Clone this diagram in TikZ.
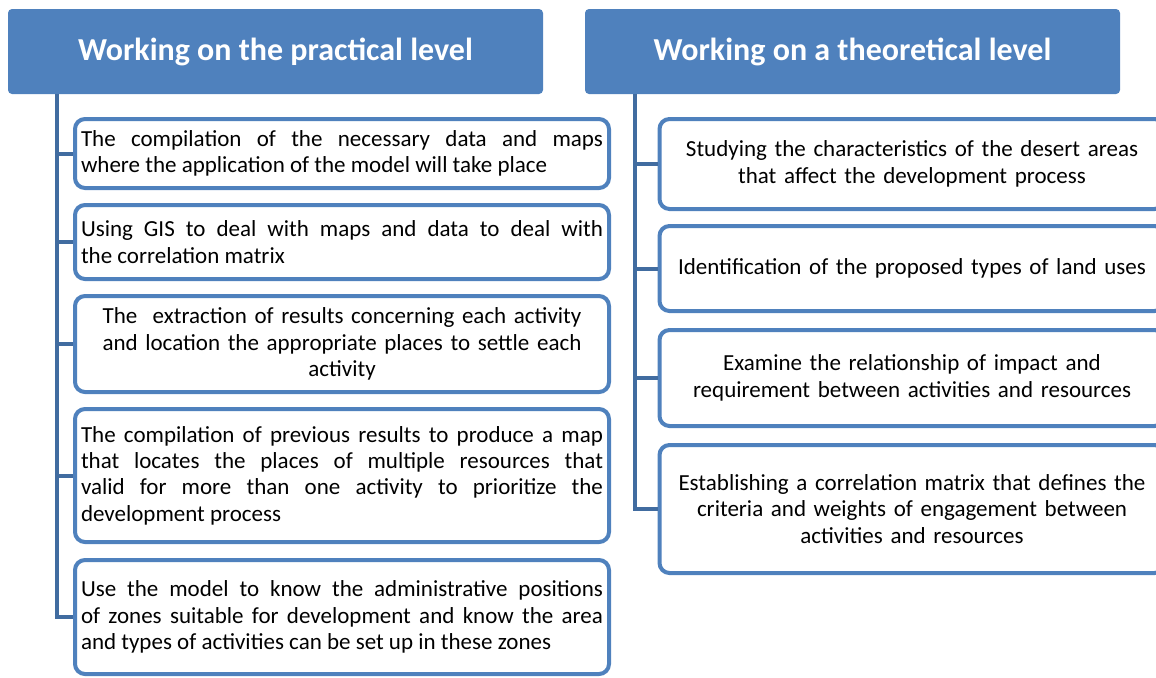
\documentclass[tikz,border=0pt]{standalone}
\usepackage{fontspec}
\setmainfont{Carlito}
\usepackage{tikz}

\definecolor{hdrblue}{RGB}{79,129,189}
\definecolor{linkblue}{RGB}{65,108,160}

\begin{document}
\begin{tikzpicture}[x=0.5pt,y=-0.5pt]
\tikzstyle{header}=[fill=hdrblue, rounded corners=2pt, minimum width=267.5pt, minimum height=42.5pt,
  text=white, font=\fontsize{16}{19}\selectfont\bfseries]
\tikzstyle{lbox}=[draw=hdrblue, line width=2pt, fill=white, rounded corners=5pt, text width=261pt,
  inner xsep=3pt, font=\fontsize{11.5}{13.2}\selectfont, align=justify]
\tikzstyle{rbox}=[lbox, text width=244pt, inner xsep=4.25pt, align=center]
\tikzstyle{link}=[draw=linkblue, line width=2pt]
\useasboundingbox (0,0) rectangle (1156,677);

% headers
\node [header] (lhead) at (275.5,51.5) {Working on the practical level};
\node [header] (rhead) at (852.5,51.5) {Working on a theoretical level};

% practical level
\node [lbox, minimum height=34.5pt] (l1) at (342,153.5) {The compilation of the necessary data and maps\linebreak where the application of the model will take place};
\node [lbox, minimum height=37pt] (l2) at (342,242) {Using GIS to deal with maps and data to deal with\linebreak the correlation matrix};
\node [lbox, minimum height=48pt, align=center] (l3) at (342,344) {The \ extraction of results concerning each activity\\ and location the appropriate places to settle each\\ activity};
\node [lbox, minimum height=66.5pt] (l4) at (342,475.5) {The compilation of previous results to produce a map\linebreak that locates the places of multiple resources that\linebreak valid for more than one activity to prioritize the\linebreak development process};
\node [lbox, minimum height=57pt] (l5) at (342,617) {Use the model to know the administrative positions\linebreak of zones suitable for development and know the area\linebreak and types of activities can be set up in these zones};

% theoretical level
\node [rbox, minimum height=45pt] (r1) at (912,164) {Studying the characteristics of the desert areas\\ that affect the development process};
\node [rbox, minimum height=42.5pt] (r2) at (912,268.5) {Identification of the proposed types of land uses};
\node [rbox, minimum height=48pt] (r3) at (912,378) {Examine the relationship of impact and\\ requirement between activities and resources};
\node [rbox, minimum height=64pt] (r4) at (912,509) {Establishing a correlation matrix that defines the\\ criteria and weights of engagement between\\ activities and resources};

% trunks and branches
\coordinate (ltop) at (57,94);
\coordinate (rtop) at (635,94);
\draw [link] (ltop) |- (l5.west);
\foreach \b in {l1,l2,l3,l4}
  \draw [link] (ltop |- \b.west) -- (\b.west);
\draw [link] (rtop) |- (r4.west);
\foreach \b in {r1,r2,r3}
  \draw [link] (rtop |- \b.west) -- (\b.west);
\end{tikzpicture}
\end{document}
